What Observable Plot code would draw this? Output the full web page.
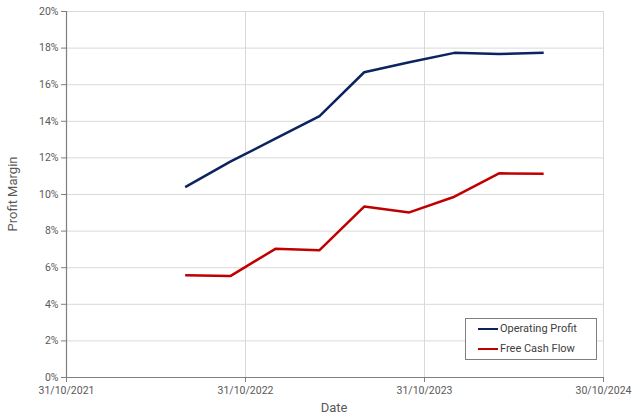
<!DOCTYPE html>
<html>
<head>
<meta charset="utf-8">
<script src="https://cdn.jsdelivr.net/npm/d3@7"></script>
<script src="https://cdn.jsdelivr.net/npm/@observablehq/plot@0.6"></script>
<style>
  html, body { margin: 0; padding: 0; background: #fff; }
  #wrap { position: relative; width: 640px; height: 418px; font-family: Roboto, "Liberation Sans", sans-serif; }
  #legend { position: absolute; left: 465px; top: 318px; width: 132px; height: 42px; border: 1px solid #7f7f7f; background: #fff; box-sizing: border-box; font-size: 11px; color: #404040; }
  #legend .item { position: absolute; left: 12px; display: flex; align-items: center; }
  #legend .sw { width: 20px; height: 0; border-top: 2.5px solid; margin-right: 2px; }
</style>
</head>
<body>
<div id="wrap"></div>
<script>
const dates = ["2022-06-30","2022-09-30","2022-12-31","2023-03-31","2023-06-30","2023-09-30","2023-12-31","2024-03-31","2024-06-30"];
const operatingProfit = [10.40, 11.80, 13.05, 14.28, 16.68, 17.23, 17.74, 17.68, 17.74];
const freeCashFlow = [5.59, 5.54, 7.03, 6.96, 9.34, 9.02, 9.88, 11.16, 11.13];
const seriesNames = ["Operating Profit", "Free Cash Flow"];
const seriesColors = ["#0b2460", "#c00000"];
const xTickDates = ["2021-10-31","2022-10-31","2023-10-31","2024-10-30"];
const yTicks = [0, 2, 4, 6, 8, 10, 12, 14, 16, 18, 20];

const parse = d3.utcParse("%Y-%m-%d");
const fmt = d3.utcFormat("%d/%m/%Y");
const rows = [];
dates.forEach((d, i) => {
  rows.push({date: parse(d), value: operatingProfit[i] / 100, series: seriesNames[0]});
  rows.push({date: parse(d), value: freeCashFlow[i] / 100, series: seriesNames[1]});
});
const xt = xTickDates.map(parse);
const yt = yTicks.map(v => v / 100);

const textColor = "#595959";
const chart = Plot.plot({
  width: 640,
  height: 418,
  marginLeft: 66,
  marginRight: 37,
  marginTop: 11,
  marginBottom: 41,
  style: {fontFamily: "Roboto, 'Liberation Sans', sans-serif", fontSize: "10.5px", color: textColor, background: "#fff"},
  x: {type: "utc", domain: [xt[0], xt[3]]},
  y: {domain: [0, 0.2]},
  color: {domain: seriesNames, range: seriesColors},
  marks: [
    Plot.gridX(xt, {stroke: "#d9d9d9", strokeOpacity: 1}),
    Plot.gridY(yt, {stroke: "#d9d9d9", strokeOpacity: 1}),
    Plot.axisY(yt, {tickSize: 5, tickPadding: 3, tickFormat: d3.format(".0%"), stroke: "#7f7f7f", fill: textColor, label: null}),
    Plot.axisX(xt, {tickSize: 5, tickPadding: 4, tickFormat: fmt, stroke: "#7f7f7f", fill: textColor, label: null}),
    Plot.ruleY([0], {stroke: "#7f7f7f", strokeWidth: 1.2}),
    Plot.ruleX([xt[0]], {stroke: "#7f7f7f", strokeWidth: 1.2}),
    Plot.line(rows, {x: "date", y: "value", z: "series", stroke: "series", strokeWidth: 2.5, strokeLinejoin: "round", strokeLinecap: "butt"})
  ]
});

const wrap = document.getElementById("wrap");
wrap.appendChild(chart);

// axis titles
const svg = d3.select(chart);
svg.append("text").attr("x", 334).attr("y", 412).attr("text-anchor", "middle")
  .attr("fill", textColor).style("font-size", "13px").text("Date");
svg.append("text").attr("transform", "translate(17,194) rotate(-90)").attr("text-anchor", "middle")
  .attr("fill", textColor).style("font-size", "13px").text("Profit Margin");

// legend
const legend = document.createElement("div");
legend.id = "legend";
seriesNames.forEach((n, i) => {
  const item = document.createElement("div");
  item.className = "item";
  item.style.top = (3 + i * 20) + "px";
  const sw = document.createElement("div");
  sw.className = "sw";
  sw.style.borderTopColor = seriesColors[i];
  const t = document.createElement("span");
  t.textContent = n;
  item.appendChild(sw); item.appendChild(t);
  legend.appendChild(item);
});
wrap.appendChild(legend);
</script>
</body>
</html>
